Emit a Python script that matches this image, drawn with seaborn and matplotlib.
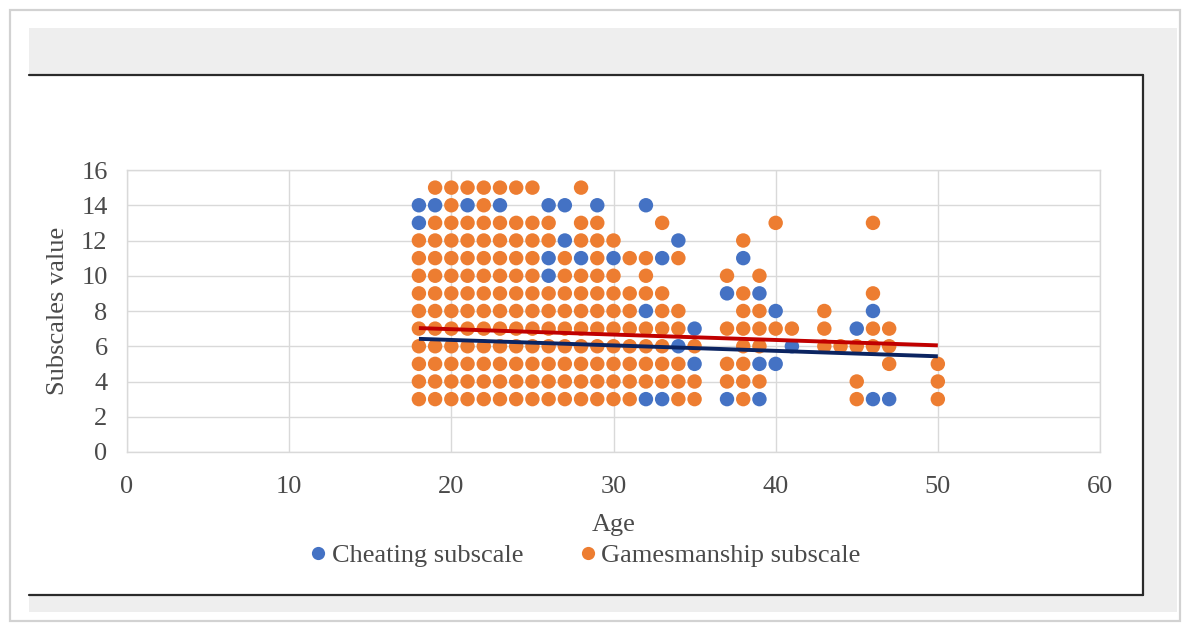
import matplotlib
matplotlib.use("Agg")
import matplotlib.pyplot as plt
from matplotlib.patches import Rectangle
from matplotlib.lines import Line2D
import seaborn as sns
import pandas as pd

# ---- data -----------------------------------------------------------------
# Gamesmanship subscale: observed scores for each age
games_age = [18, 19, 20, 21, 22, 23, 24, 25, 26, 27, 28, 29, 30, 31, 32, 33,
             34, 35, 37, 38, 39, 40, 41, 43, 44, 45, 46, 47, 50]
games_scores = [
    [3, 4, 5, 6, 7, 8, 9, 10, 11, 12],
    [3, 4, 5, 6, 7, 8, 9, 10, 11, 12, 13, 15],
    [3, 4, 5, 6, 7, 8, 9, 10, 11, 12, 13, 14, 15],
    [3, 4, 5, 6, 7, 8, 9, 10, 11, 12, 13, 15],
    [3, 4, 5, 6, 7, 8, 9, 10, 11, 12, 13, 14, 15],
    [3, 4, 5, 6, 7, 8, 9, 10, 11, 12, 13, 15],
    [3, 4, 5, 6, 7, 8, 9, 10, 11, 12, 13, 15],
    [3, 4, 5, 6, 7, 8, 9, 10, 11, 12, 13, 15],
    [3, 4, 5, 6, 7, 8, 9, 12, 13],
    [3, 4, 5, 6, 7, 8, 9, 10, 11],
    [3, 4, 5, 6, 7, 8, 9, 10, 12, 13, 15],
    [3, 4, 5, 6, 7, 8, 9, 10, 11, 12, 13],
    [3, 4, 5, 6, 7, 8, 9, 10, 12],
    [3, 4, 5, 6, 7, 8, 9, 11],
    [4, 5, 6, 7, 9, 10, 11],
    [4, 5, 6, 7, 8, 9, 13],
    [3, 4, 5, 7, 8, 11],
    [3, 4, 6],
    [4, 5, 7, 10],
    [3, 4, 5, 6, 7, 8, 9, 12],
    [4, 6, 7, 8, 10],
    [7, 13],
    [7],
    [6, 7, 8],
    [6],
    [3, 4, 6],
    [6, 7, 9, 13],
    [5, 6, 7],
    [3, 4, 5],
]

# Cheating subscale
cheat_age = [18, 18, 19, 21, 23, 26, 26, 26, 27, 27, 28, 29, 30, 32, 32, 32,
             33, 33, 34, 34, 35, 35, 37, 37, 38, 39, 39, 39, 40, 40, 41, 45,
             46, 46, 47]
cheat_score = [13, 14, 14, 14, 14, 10, 11, 14, 12, 14, 11, 14, 11, 3, 8, 14,
               3, 11, 6, 12, 5, 7, 3, 9, 11, 3, 5, 9, 5, 8, 6, 7,
               3, 8, 3]

# Linear trend lines (endpoints over the observed age range)
trend_age = [18, 50]
cheat_trend = [6.42, 5.43]
games_trend = [7.03, 6.05]

series_names = ["Cheating subscale", "Gamesmanship subscale"]
x_ticks = [0, 10, 20, 30, 40, 50, 60]
y_ticks = [0, 2, 4, 6, 8, 10, 12, 14, 16]

# ---- styling --------------------------------------------------------------
BLUE = "#4472C4"
ORANGE = "#ED7D31"
RED_LINE = "#C00000"
NAVY_LINE = "#0B2461"
TEXT = "#4A4A4A"
GRID = "#D9D9D9"

sns.set_theme(style="white")
plt.rcParams["font.family"] = ["Liberation Serif", "DejaVu Serif"]

W, H = 1188, 628
fig = plt.figure(figsize=(W / 100, H / 100), dpi=100)
fig.patch.set_facecolor("white")


def fx(x):
    return x / W


def fy(y):
    return 1 - y / H


def frect(x0, y0, x1, y1, **kw):
    return Rectangle((fx(x0), fy(y1)), fx(x1) - fx(x0), fy(y0) - fy(y1),
                     transform=fig.transFigure, **kw)


# Card, grey mat and white chart frame
fig.patches.append(frect(10, 10, 1180, 621, facecolor="white",
                         edgecolor="#D2D2D2", linewidth=1.6, zorder=0))
fig.patches.append(frect(29, 28, 1177, 612, facecolor="#EEEEEE",
                         edgecolor="none", zorder=0.1))
fig.patches.append(frect(29, 75, 1143, 595, facecolor="white",
                         edgecolor="none", zorder=0.2))
for (xa, ya, xb, yb) in [(29, 75, 1143, 75), (1143, 75, 1143, 595),
                         (29, 595, 1143, 595)]:
    fig.add_artist(Line2D([fx(xa), fx(xb)], [fy(ya), fy(yb)],
                          transform=fig.transFigure, color="#2A2A2A",
                          linewidth=1.6, zorder=0.3))

ax = fig.add_axes([fx(127), fy(452), fx(1100) - fx(127), fy(170) - fy(452)])
ax.set_facecolor("none")
ax.set_zorder(1)

# ---- long-form table -------------------------------------------------------
rows = []
for a, v in zip(cheat_age, cheat_score):
    rows.append((a, v, series_names[0]))
for a, vals in zip(games_age, games_scores):
    for v in vals:
        rows.append((a, v, series_names[1]))
df = pd.DataFrame(rows, columns=["Age", "Score", "Series"])

sns.scatterplot(data=df, x="Age", y="Score", hue="Series",
                palette={series_names[0]: BLUE, series_names[1]: ORANGE},
                s=108, edgecolor="none", linewidth=0, legend=False,
                ax=ax, zorder=3)

ax.plot(trend_age, games_trend, color=RED_LINE, linewidth=2.8, zorder=4,
        solid_capstyle="butt")
ax.plot(trend_age, cheat_trend, color=NAVY_LINE, linewidth=2.8, zorder=4,
        solid_capstyle="butt")

# ---- axes ------------------------------------------------------------------
ax.set_xlim(0, 60)
ax.set_ylim(0, 16)
ax.set_xticks(x_ticks)
ax.set_yticks(y_ticks)
ax.set_xticklabels([str(t) for t in x_ticks])
ax.set_yticklabels([str(t) for t in y_ticks])
ax.grid(True, color=GRID, linewidth=1.0)
ax.set_axisbelow(True)
for sp in ax.spines.values():
    sp.set_visible(True)
    sp.set_color(GRID)
    sp.set_linewidth(1.0)
ax.tick_params(axis="both", length=0, labelsize=19, colors=TEXT)
ax.tick_params(axis="x", pad=17)
ax.tick_params(axis="y", pad=14)

ax.set_xlabel("Age", fontsize=19, color=TEXT)
ax.xaxis.set_label_coords(0.5, (452 - 525) / 282)
ax.xaxis.label.set_va("center")
ax.set_ylabel("Subscales value", fontsize=19, color=TEXT)
ax.yaxis.set_label_coords((58 - 127) / 973, 0.5)
ax.yaxis.label.set_va("center")

handles = [Line2D([], [], linestyle="none", marker="o", markersize=9.5,
                  markerfacecolor=c, markeredgecolor="none")
           for c in (BLUE, ORANGE)]
leg = fig.legend(handles, series_names, loc="center",
                 bbox_to_anchor=(fx(586), fy(555)), ncol=2, frameon=False,
                 fontsize=19, handlelength=0.5, handletextpad=0.25,
                 columnspacing=2.2, borderpad=0)
for t in leg.get_texts():
    t.set_color(TEXT)

fig.savefig("out.png", dpi=100, facecolor="white")
